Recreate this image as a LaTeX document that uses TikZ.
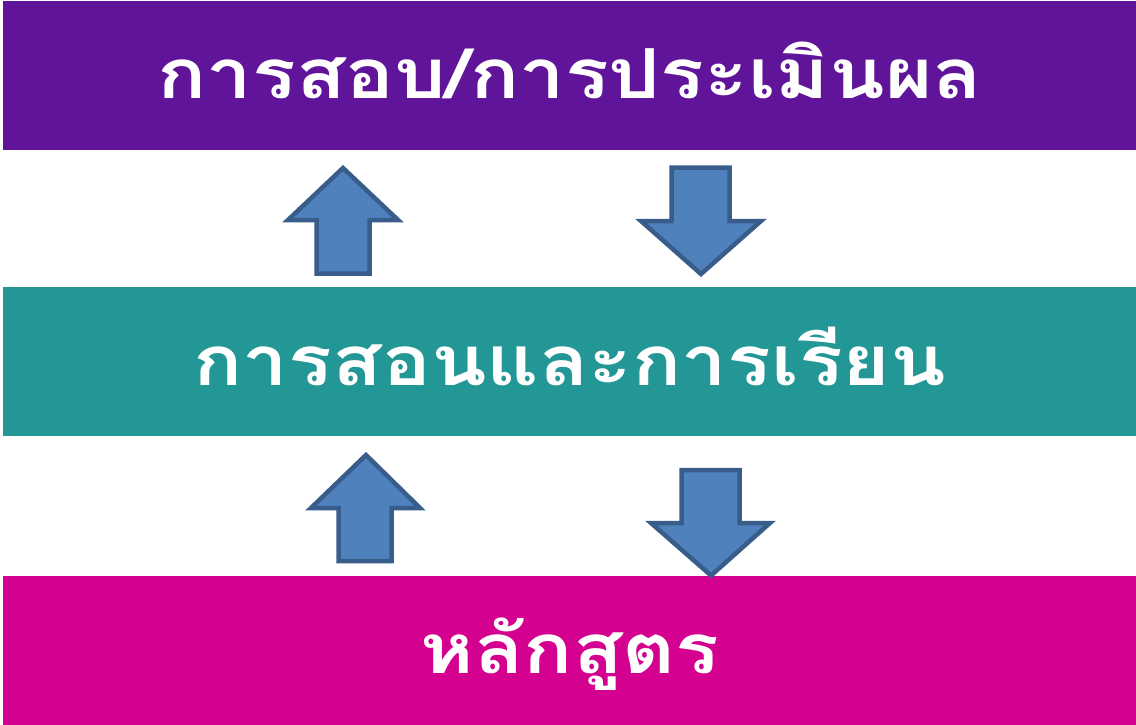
\documentclass[tikz,border=0pt]{standalone}
\usepackage{fontspec}
\newfontfamily\thaifont[Script=Thai,FakeStretch=1.18]{Loma}
\definecolor{bandpurple}{HTML}{5F1499}
\definecolor{bandteal}{HTML}{239696}
\definecolor{bandmagenta}{HTML}{D4008F}
\definecolor{arrowfill}{HTML}{4F81BD}
\definecolor{arrowline}{HTML}{385D8A}
\begin{document}
\begin{tikzpicture}[x=1pt,y=-1pt,
  band/.style={draw=none,inner sep=0pt,outer sep=0pt,anchor=north west},
  bandtext/.style={text=white,font=\thaifont\bfseries\fontsize{69}{69}\selectfont,inner sep=0pt,anchor=base},
  blockarrow/.style={draw=arrowline,fill=arrowfill,line width=4.5pt,line join=miter}]
\useasboundingbox (0,0) rectangle (1136,725);
% bands
\node[band,fill=bandpurple,minimum width=1133pt,minimum height=149pt] (top) at (3,1) {};
\node[band,fill=bandteal,minimum width=1133pt,minimum height=149pt] (mid) at (3,287) {};
\node[band,fill=bandmagenta,minimum width=1133pt,minimum height=149pt] (bot) at (3,576) {};
% texts
\node[bandtext] (toptext) at (570,99) {การสอบ/การประเมินผล};
\node[bandtext] (midtext) at (570,385) {การสอนและการเรียน};
\node[bandtext] (bottext) at (570,673) {หลักสูตร};
% arrows between top and middle
\draw[blockarrow] (316.5,273.5) -- (316.5,220) -- (288,220) -- (343,168) -- (398,220) -- (369.5,220) -- (369.5,273.5) -- cycle;
\draw[blockarrow] (671.5,167.5) -- (671.5,221) -- (641,221) -- (701,274) -- (761,221) -- (729.5,221) -- (729.5,167.5) -- cycle;
% arrows between middle and bottom
\draw[blockarrow] (338.5,561) -- (338.5,508) -- (311,508) -- (366,455) -- (420,508) -- (391.5,508) -- (391.5,561) -- cycle;
\draw[blockarrow] (681.5,470) -- (681.5,523) -- (651,523) -- (711,575.5) -- (770,523) -- (739.5,523) -- (739.5,470) -- cycle;
\end{tikzpicture}
\end{document}
